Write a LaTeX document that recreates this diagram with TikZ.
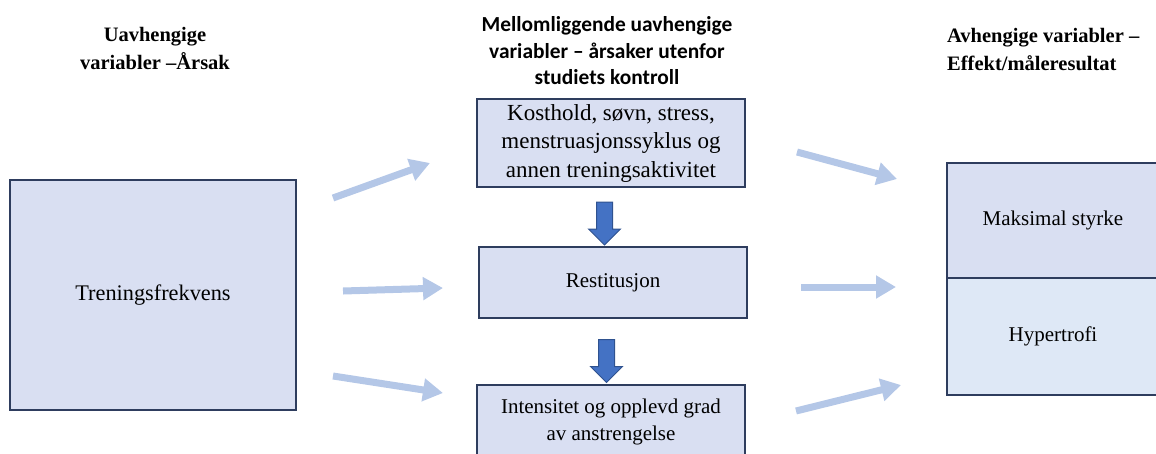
\documentclass[tikz,border=0pt]{standalone}
\usepackage{fontspec}
\setmainfont{Liberation Serif}
\newfontfamily\calibrifont{Carlito}
\usetikzlibrary{shapes.arrows}
\usetikzlibrary{arrows.meta}

\definecolor{boxfill}{HTML}{D9DFF2}
\definecolor{boxfilllight}{HTML}{DEE8F6}
\definecolor{boxline}{HTML}{2E3D5E}
\definecolor{paleblue}{HTML}{B4C7E7}
\definecolor{darkblue}{HTML}{4472C4}
\definecolor{darkblueline}{HTML}{2F528F}

\tikzset{
	varbox/.style = {
		rectangle,
		draw=boxline,
		fill=boxfill,
		line width=1.2pt,
		align=center,
		inner sep=0pt,
		font=\fontsize{21}{27}\selectfont
	},
	varbox_light/.style = {
		varbox,
		fill=boxfilllight
	},
	heading/.style = {
		align=center,
		inner sep=0pt,
		font=\fontsize{20.5}{28}\selectfont\bfseries
	},
	heading_sans/.style = {
		heading,
		font=\fontsize{21.4}{26.5}\selectfont\calibrifont\bfseries
	},
	arrow_pale/.style = {
		draw=paleblue,
		line width=7pt,
		-{Triangle[length=20pt,width=22pt]}
	},
	arrow_down/.style = {
		single arrow,
		shape border rotate=270,
		draw=darkblueline,
		fill=darkblue,
		line width=1pt,
		inner sep=7.5pt,
		minimum height=43pt,
		single arrow head extend=8pt
	},
}

\begin{document}
\begin{tikzpicture}[x=1pt,y=-1pt]
\clip (0,0) rectangle (1156,453);

% headings
\node [heading] (h_cause) at (155,48) {Uavhengige\\variabler –Årsak};
\node [heading_sans] (h_mid) at (607,51) {Mellomliggende uavhengige\\variabler – årsaker utenfor\\studiets kontroll};
\node [heading, align=left, anchor=west] (h_effect) at (947,49.5) {Avhengige variabler –\\Effekt/måleresultat};

% boxes
\node [varbox, minimum width=286pt, minimum height=230pt, font=\fontsize{22.3}{27}\selectfont] (freq) at (153,295) {Treningsfrekvens};
\node [varbox, minimum width=268pt, minimum height=88pt, font=\fontsize{23}{28.5}\selectfont] (diet) at (611,143)
	{Kosthold, søvn, stress,\\menstruasjonssyklus og\\annen treningsaktivitet};
\node [varbox, minimum width=268pt, minimum height=71pt] (rest) at (613,282.5) {Restitusjon};
\node [varbox, minimum width=268pt, minimum height=73pt] (intens) at (611,421.5)
	{Intensitet og opplevd grad\\av anstrengelse};
\node [varbox, minimum width=212pt, minimum height=115pt] (strength) at (1053,220.5) {Maksimal styrke};
\node [varbox_light, minimum width=212pt, minimum height=117pt] (hyper) at (1053,336.5) {Hypertrofi};

% down arrows
\node [arrow_down] (down1) at (604.5,219.5) {};
\node [arrow_down] (down2) at (606.5,357) {};

% pale arrows
\coordinate (in1_s) at (333,198);
\coordinate (in1_e) at (430,163);
\coordinate (in2_s) at (343,291);
\coordinate (in2_e) at (443,288);
\coordinate (in3_s) at (333,376);
\coordinate (in3_e) at (443,393);
\coordinate (out1_s) at (797,152);
\coordinate (out1_e) at (897,179);
\coordinate (out2_s) at (801,287);
\coordinate (out2_e) at (896,287);
\coordinate (out3_s) at (796,411);
\coordinate (out3_e) at (901,385);

\draw [arrow_pale] (in1_s) -- (in1_e);
\draw [arrow_pale] (in2_s) -- (in2_e);
\draw [arrow_pale] (in3_s) -- (in3_e);
\draw [arrow_pale] (out1_s) -- (out1_e);
\draw [arrow_pale] (out2_s) -- (out2_e);
\draw [arrow_pale] (out3_s) -- (out3_e);
\end{tikzpicture}
\end{document}
